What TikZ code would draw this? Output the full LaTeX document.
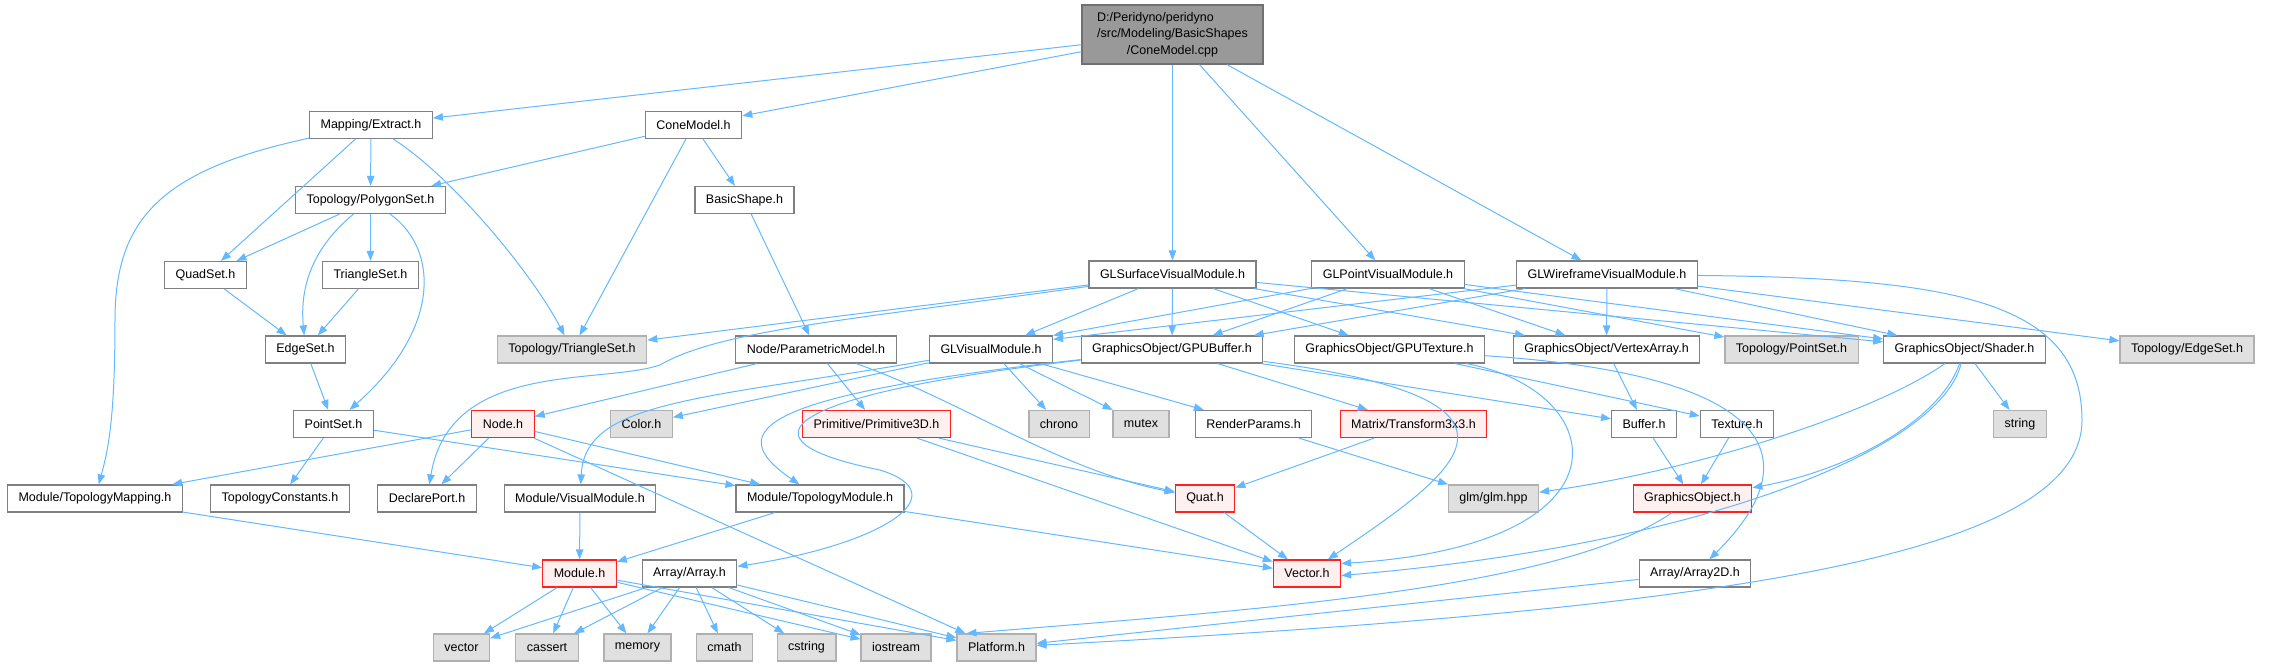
\documentclass[tikz,border=0pt]{standalone}
\usepackage{fontspec}
\setmainfont{Liberation Sans}
\usetikzlibrary{arrows.meta}

\definecolor{edgeblue}{HTML}{63B8FF}
\definecolor{boxline}{HTML}{808080}
\definecolor{sysline}{HTML}{B0B0B0}
\definecolor{sysfill}{HTML}{E0E0E0}
\definecolor{redline}{HTML}{FF2020}
\definecolor{redfill}{HTML}{FFF0F0}
\definecolor{rootline}{HTML}{707070}
\definecolor{rootfill}{HTML}{999999}

\begin{document}
\begin{tikzpicture}[
    x=1pt, y=-1pt,
    box/.style = {
        draw=boxline,
        fill=white,
        line width=1.2pt,
        font=\fontsize{12.5}{16.3}\selectfont,
        minimum height=27pt,
        inner xsep=11pt,
        inner ysep=0pt
    },
    sysbox/.style = {box, draw=sysline, fill=sysfill},
    redbox/.style = {box, draw=redline, fill=redfill},
    rootbox/.style = {box, draw=rootline, fill=rootfill, minimum width=181pt, minimum height=59pt},
    dep/.style = {-{Triangle[length=10pt, width=7.5pt]}, edgeblue, line width=1pt}
]

\useasboundingbox (0,0) rectangle (2279,667);

%% ── Nodos ──────────────────────────────────────────────────────────────────

\node[rootbox] (root) at (1172.5,34.5)
    {\begin{tabular}{@{}l@{}}D:/Peridyno/peridyno\\/src/Modeling/BasicShapes\\\multicolumn{1}{@{}c@{}}{/ConeModel.cpp}\end{tabular}};

\node[box] (extract)    at (371,125)     {Mapping/Extract.h};
\node[box] (conemodel)  at (693.5,125)   {ConeModel.h};

\node[box] (polyset)    at (370.5,200)   {Topology/PolygonSet.h};
\node[box] (basicshape) at (744.5,200)   {BasicShape.h};

\node[box] (quadset)    at (205.5,275)   {QuadSet.h};
\node[box] (triset)     at (370.5,275)   {TriangleSet.h};
\node[box] (glsurface)  at (1172.5,274.5) {GLSurfaceVisualModule.h};
\node[box] (glpoint)    at (1388,274.5)  {GLPointVisualModule.h};
\node[box] (glwire)     at (1607,274.5)  {GLWireframeVisualModule.h};

\node[box]    (edgeset)   at (305.5,349.5)  {EdgeSet.h};
\node[sysbox] (tritopo)   at (572,349.5)    {Topology/TriangleSet.h};
\node[box]    (paramodel) at (816,349.5)    {Node/ParametricModel.h};
\node[box]    (glvisual)  at (991,349.5)    {GLVisualModule.h};
\node[box]    (gpubuffer) at (1172,349.5)   {GraphicsObject/GPUBuffer.h};
\node[box]    (gputex)    at (1389.5,349.5) {GraphicsObject/GPUTexture.h};
\node[box]    (vertexarr) at (1606.5,349.5) {GraphicsObject/VertexArray.h};
\node[sysbox] (pttopo)    at (1791.5,349.5) {Topology/PointSet.h};
\node[box]    (shader)    at (1964.5,349.5) {GraphicsObject/Shader.h};
\node[sysbox] (edgetopo)  at (2187,349.5)   {Topology/EdgeSet.h};

\node[box]    (pointset)  at (333.5,424)  {PointSet.h};
\node[redbox] (nodeh)     at (503,424)    {Node.h};
\node[sysbox] (colorh)    at (641.5,424)  {Color.h};
\node[redbox] (prim3d)    at (876.5,424)  {Primitive/Primitive3D.h};
\node[sysbox] (chrono)    at (1059,424)   {chrono};
\node[sysbox] (mutex)     at (1141,424)   {mutex};
\node[box]    (renderp)   at (1253.5,424) {RenderParams.h};
\node[redbox] (transform) at (1413.5,424) {Matrix/Transform3x3.h};
\node[box]    (bufferh)   at (1644,424)   {Buffer.h};
\node[box]    (textureh)  at (1737,424)   {Texture.h};
\node[sysbox] (stringh)   at (2020,424)   {string};

\node[box]    (topomap)    at (95,498.5)     {Module/TopologyMapping.h};
\node[box]    (topoconst)  at (280,498.5)    {TopologyConstants.h};
\node[box]    (declport)   at (427,498.5)    {DeclarePort.h};
\node[box]    (visualmod)  at (580,498.5)    {Module/VisualModule.h};
\node[box]    (topomodule) at (820,498.5)    {Module/TopologyModule.h};
\node[redbox] (quat)       at (1205,498.5)   {Quat.h};
\node[sysbox] (glm)        at (1493.5,498.5) {glm/glm.hpp};
\node[redbox] (graphobj)   at (1692.5,498.5) {GraphicsObject.h};

\node[redbox] (moduleh) at (579.5,573.5) {Module.h};
\node[box]    (arrayh)  at (689.5,573.5) {Array/Array.h};
\node[redbox] (vectorh) at (1307,573.5)  {Vector.h};
\node[box]    (array2d) at (1695,573.5)  {Array/Array2D.h};

\node[sysbox] (vector)   at (461.5,647.5) {vector};
\node[sysbox] (cassert)  at (547,647.5)   {cassert};
\node[sysbox] (memory)   at (637.5,647.5) {memory};
\node[sysbox] (cmath)    at (724.5,647.5) {cmath};
\node[sysbox] (cstring)  at (806.5,647.5) {cstring};
\node[sysbox] (iostream) at (896,647.5)   {iostream};
\node[sysbox] (platform) at (996.5,647.5) {Platform.h};

%% ── Flechas ─────────────────────────────────────────────────────────────────

% ConeModel.cpp
\draw[dep] (root) -- (extract);
\draw[dep] (root) -- (conemodel);
\draw[dep] (root) -- (glsurface);
\draw[dep] (root) -- (glpoint);
\draw[dep] (root) -- (glwire);

% Mapping/Extract.h
\draw[dep] (extract) -- (polyset);
\draw[dep] (extract) -- (quadset);
\draw[dep] (extract) .. controls (450,175) and (530,270) .. (tritopo);
\draw[dep] (extract) .. controls (160,170) and (115,220) .. (115,320)
                     .. controls (115,420) and (108,450) .. (topomap);

% ConeModel.h
\draw[dep] (conemodel) -- (polyset);
\draw[dep] (conemodel) -- (tritopo);
\draw[dep] (conemodel) -- (basicshape);

% Topology/PolygonSet.h
\draw[dep] (polyset) -- (quadset);
\draw[dep] (polyset) .. controls (310,250) and (300,290) .. (edgeset);
\draw[dep] (polyset) -- (triset);
\draw[dep] (polyset) .. controls (440,250) and (440,330) .. (pointset);

\draw[dep] (quadset) -- (edgeset);
\draw[dep] (triset) -- (edgeset);
\draw[dep] (edgeset) -- (pointset);
\draw[dep] (pointset) -- (topoconst);
\draw[dep] (pointset) -- (topomodule);

% Node/ParametricModel.h
\draw[dep] (basicshape) -- (paramodel);
\draw[dep] (paramodel) -- (nodeh);
\draw[dep] (paramodel) -- (prim3d);
\draw[dep] (paramodel) .. controls (960,400) and (1060,470) .. (quat);

% Node.h
\draw[dep] (nodeh) -- (topomap);
\draw[dep] (nodeh) -- (declport);
\draw[dep] (nodeh) -- (topomodule);
\draw[dep] (nodeh) -- (platform);

% Module
\draw[dep] (topomap) -- (moduleh);
\draw[dep] (visualmod) -- (moduleh);
\draw[dep] (topomodule) -- (moduleh);
\draw[dep] (topomodule) -- (vectorh);
\draw[dep] (moduleh) -- (vector);
\draw[dep] (moduleh) -- (cassert);
\draw[dep] (moduleh) -- (memory);
\draw[dep] (moduleh) -- (iostream);
\draw[dep] (moduleh) -- (platform);

% Array/Array.h
\draw[dep] (arrayh) -- (vector);
\draw[dep] (arrayh) -- (cassert);
\draw[dep] (arrayh) -- (memory);
\draw[dep] (arrayh) -- (cmath);
\draw[dep] (arrayh) -- (cstring);
\draw[dep] (arrayh) -- (iostream);
\draw[dep] (arrayh) -- (platform);

% GLSurfaceVisualModule.h
\draw[dep] (glsurface) -- (tritopo);
\draw[dep] (glsurface) .. controls (850,320) and (720,330) .. (660,365)
                       .. controls (600,385) and (450,360) .. (declport);
\draw[dep] (glsurface) -- (glvisual);
\draw[dep] (glsurface) -- (gpubuffer);
\draw[dep] (glsurface) -- (gputex);
\draw[dep] (glsurface) -- (vertexarr);
\draw[dep] (glsurface) -- (shader);

% GLPointVisualModule.h
\draw[dep] (glpoint) -- (glvisual.north east);
\draw[dep] (glpoint) -- (gpubuffer);
\draw[dep] (glpoint) -- (vertexarr);
\draw[dep] (glpoint) -- (shader);
\draw[dep] (glpoint) -- (pttopo);

% GLWireframeVisualModule.h
\draw[dep] (glwire) -- ([yshift=-4pt]glvisual.north east);
\draw[dep] (glwire) -- (gpubuffer);
\draw[dep] (glwire) -- (vertexarr);
\draw[dep] (glwire) -- (shader);
\draw[dep] (glwire) -- (edgetopo);
\draw[dep] (glwire) .. controls (1950,278) and (2082,300) .. (2082,420)
                    .. controls (2082,560) and (1700,610) .. (platform);

% GLVisualModule.h
\draw[dep] (glvisual) -- (colorh);
\draw[dep] (glvisual) .. controls (700,400) and (585,400) .. (visualmod);
\draw[dep] (glvisual) -- (chrono);
\draw[dep] (glvisual) -- (mutex);
\draw[dep] (glvisual) -- (renderp);

% GraphicsObject/GPUBuffer.h
\draw[dep] (gpubuffer) .. controls (760,395) and (720,430) .. (topomodule);
\draw[dep] (gpubuffer) .. controls (780,395) and (730,440) .. (880,470)
                       .. controls (960,495) and (880,545) .. (arrayh);
\draw[dep] (gpubuffer) -- (transform);
\draw[dep] (gpubuffer) -- (bufferh);
\draw[dep] (gpubuffer) .. controls (1560,400) and (1460,470) .. (vectorh);

% GraphicsObject/GPUTexture.h
\draw[dep] (gputex) -- (textureh);
\draw[dep] (gputex) .. controls (1780,375) and (1810,460) .. (array2d);
\draw[dep] (gputex) .. controls (1610,390) and (1640,545) .. ([yshift=10pt]vectorh.east);

% GraphicsObject/Shader.h
\draw[dep] (shader) -- (stringh);
\draw[dep] (shader) .. controls (1880,410) and (1700,470) .. (glm);
\draw[dep] (shader) .. controls (1940,420) and (1850,470) .. (graphobj);
\draw[dep] (shader) .. controls (1940,450) and (1700,545) .. ([yshift=-2pt]vectorh.east);

% Resto
\draw[dep] (vertexarr) -- (bufferh);
\draw[dep] (bufferh) -- (graphobj);
\draw[dep] (textureh) -- (graphobj);
\draw[dep] (graphobj) .. controls (1560,590) and (1250,610) .. ([xshift=-30pt]platform.north);
\draw[dep] (array2d) -- (platform);
\draw[dep] (renderp) -- (glm);
\draw[dep] (transform) -- (quat);
\draw[dep] (prim3d) -- (quat);
\draw[dep] (prim3d) -- (vectorh);
\draw[dep] (quat) -- (vectorh);

\end{tikzpicture}
\end{document}
